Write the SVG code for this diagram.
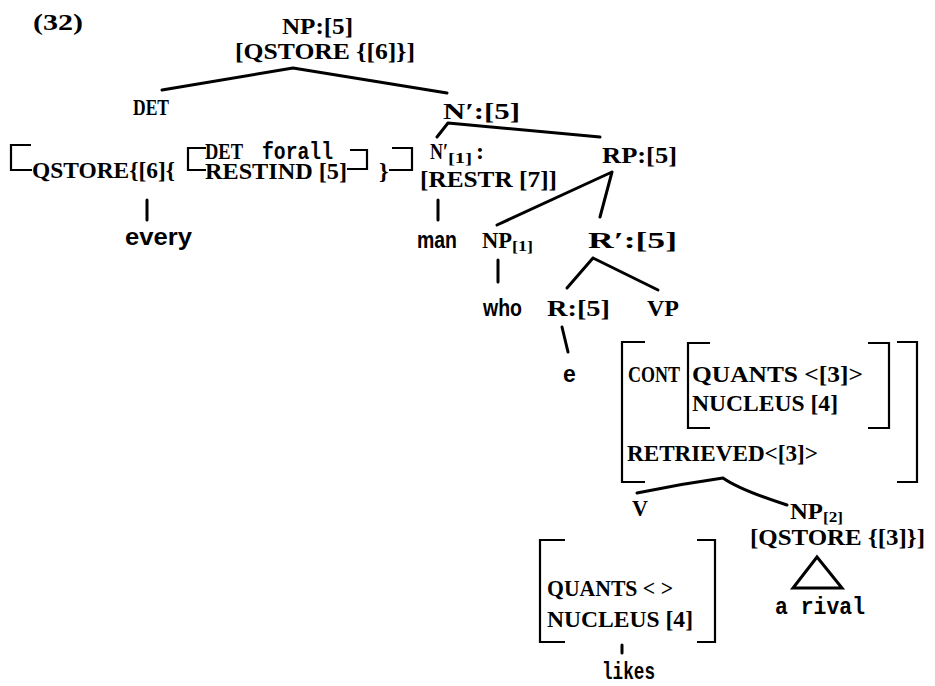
<svg xmlns="http://www.w3.org/2000/svg" width="935" height="686" viewBox="0 0 935 686">
  <style>
    .lbl { font-family: "Liberation Serif", "DejaVu Serif", serif; font-weight: bold; font-size: 24px; fill: #000; }
    .sub { font-family: "Liberation Serif", "DejaVu Serif", serif; font-weight: bold; font-size: 15px; fill: #000; }
    .wd { font-family: "Liberation Sans", "DejaVu Sans", sans-serif; font-weight: bold; font-size: 23px; fill: #000; }
    .tt { font-family: "Liberation Mono", "DejaVu Sans Mono", monospace; font-weight: bold; font-size: 23px; fill: #000; }
    .edge { stroke: #000; stroke-width: 3; fill: none; stroke-linecap: round; }
    .brk { stroke: #000; stroke-width: 2.2; fill: none; }
  </style>
  <rect width="935" height="686" fill="#fff"/>

  <text class="lbl" x="33" y="30" textLength="50" lengthAdjust="spacingAndGlyphs">(32)</text>

  <!-- connectors -->
  <g id="edges">
    <path class="edge" d="M293 68 L162 90 M293 68 L447 93"/>
    <path class="edge" d="M448 123 L437 137 M448 123 L600 137"/>
    <path class="edge" d="M612 172 L497 225 M612 172 L600 217"/>
    <path class="edge" d="M593 258 L567 288 M593 258 L658 290"/>
    <path class="edge" d="M498 260 L498 282"/>
    <path class="edge" d="M147 200 L147 220"/>
    <path class="edge" d="M438 200 L438 220"/>
    <path class="edge" d="M562 327 L568 352"/>
    <path class="edge" d="M723 478 Q680 484 637 493 M723 478 Q740 490 787 505"/>
    <path class="edge" d="M622 645 L622 653"/>
  </g>

  <g id="np-top">
    <text class="lbl" x="282" y="34" textLength="71" lengthAdjust="spacingAndGlyphs">NP:[5]</text>
    <text class="lbl" x="235" y="59" textLength="180" lengthAdjust="spacingAndGlyphs">[QSTORE {[6]}]</text>
  </g>

  <g id="det">
    <text class="lbl" x="133" y="115" textLength="36" lengthAdjust="spacingAndGlyphs">DET</text>
  </g>

  <g id="det-avm">
    <path class="brk" d="M31 145 H11 V170 H32"/>
    <text class="lbl" x="32" y="178" textLength="143" lengthAdjust="spacingAndGlyphs">QSTORE{[6]{</text>
    <path class="brk" d="M206 148 H188 V170 H206"/>
    <text class="lbl" x="205" y="159" textLength="38" lengthAdjust="spacingAndGlyphs">DET</text>
    <text class="tt" x="262" y="159" textLength="71" lengthAdjust="spacingAndGlyphs">forall</text>
    <text class="lbl" x="205" y="179" textLength="142" lengthAdjust="spacingAndGlyphs">RESTIND [5]</text>
    <path class="brk" d="M350 150 H367 V169 H347"/>
    <text class="lbl" x="379" y="179">}</text>
    <path class="brk" d="M392 148 H412 V170 H389"/>
  </g>

  <g id="every">
    <text class="wd" x="125" y="245" textLength="67" lengthAdjust="spacingAndGlyphs">every</text>
  </g>

  <g id="nbar">
    <text class="lbl" x="443" y="119" textLength="77" lengthAdjust="spacingAndGlyphs">N′:[5]</text>
  </g>

  <g id="nbar1">
    <text class="lbl" x="430" y="159" textLength="18" lengthAdjust="spacingAndGlyphs">N′</text>
    <text class="sub" x="448" y="163" textLength="24" lengthAdjust="spacingAndGlyphs">[1]</text>
    <text class="lbl" x="476" y="159">:</text>
    <text class="lbl" x="420" y="187" textLength="137" lengthAdjust="spacingAndGlyphs">[RESTR [7]]</text>
  </g>

  <g id="man">
    <text class="wd" x="417" y="248" textLength="40" lengthAdjust="spacingAndGlyphs">man</text>
  </g>

  <g id="rp">
    <text class="lbl" x="602" y="163" textLength="75" lengthAdjust="spacingAndGlyphs">RP:[5]</text>
  </g>

  <g id="np1">
    <text class="lbl" x="482" y="248" textLength="30" lengthAdjust="spacingAndGlyphs">NP</text>
    <text class="sub" x="512" y="251" textLength="21" lengthAdjust="spacingAndGlyphs">[1]</text>
  </g>

  <g id="who">
    <text class="wd" x="483" y="316" textLength="39" lengthAdjust="spacingAndGlyphs">who</text>
  </g>

  <g id="rbar">
    <text class="lbl" x="588" y="248" textLength="89" lengthAdjust="spacingAndGlyphs">R′:[5]</text>
  </g>

  <g id="r">
    <text class="lbl" x="547" y="316" textLength="63" lengthAdjust="spacingAndGlyphs">R:[5]</text>
  </g>

  <g id="e">
    <text class="wd" x="563" y="382">e</text>
  </g>

  <g id="vp">
    <text class="lbl" x="647" y="316" textLength="32" lengthAdjust="spacingAndGlyphs">VP</text>
    <path class="brk" d="M645 342 H622 V482 H645"/>
    <path class="brk" d="M897 342 H917 V482 H897"/>
    <text class="lbl" x="628" y="382" textLength="52" lengthAdjust="spacingAndGlyphs">CONT</text>
    <path class="brk" d="M710 343 H688 V428 H710"/>
    <path class="brk" d="M868 343 H889 V428 H868"/>
    <text class="lbl" x="692" y="382" textLength="171" lengthAdjust="spacingAndGlyphs">QUANTS &lt;[3]&gt;</text>
    <text class="lbl" x="692" y="411" textLength="146" lengthAdjust="spacingAndGlyphs">NUCLEUS [4]</text>
    <text class="lbl" x="627" y="461" textLength="191" lengthAdjust="spacingAndGlyphs">RETRIEVED&lt;[3]&gt;</text>
  </g>

  <g id="v">
    <text class="lbl" x="632" y="516" textLength="16" lengthAdjust="spacingAndGlyphs">V</text>
    <path class="brk" d="M565 540 H540 V642 H565"/>
    <path class="brk" d="M697 540 H715 V642 H697"/>
    <text class="lbl" x="547" y="596" textLength="126" lengthAdjust="spacingAndGlyphs">QUANTS &lt; &gt;</text>
    <text class="lbl" x="547" y="627" textLength="146" lengthAdjust="spacingAndGlyphs">NUCLEUS [4]</text>
  </g>

  <g id="likes">
    <text class="tt" x="602" y="679" textLength="53" lengthAdjust="spacingAndGlyphs">likes</text>
  </g>

  <g id="np2">
    <text class="lbl" x="790" y="519" textLength="33" lengthAdjust="spacingAndGlyphs">NP</text>
    <text class="sub" x="823" y="522" textLength="20" lengthAdjust="spacingAndGlyphs">[2]</text>
    <text class="lbl" x="750" y="545" textLength="175" lengthAdjust="spacingAndGlyphs">[QSTORE {[3]}]</text>
    <path class="edge" d="M817 557 L793 588 L842 588 Z"/>
  </g>

  <g id="a-rival">
    <text class="tt" x="775" y="614" textLength="90" lengthAdjust="spacingAndGlyphs">a rival</text>
  </g>
</svg>
